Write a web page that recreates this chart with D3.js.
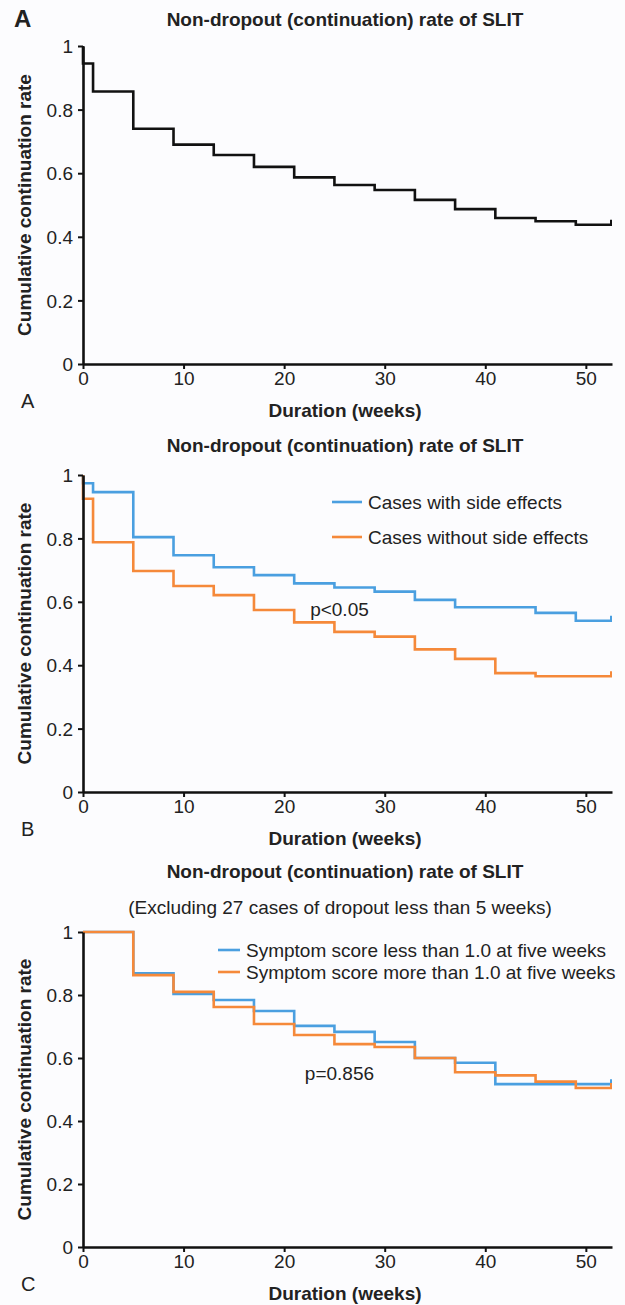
<!DOCTYPE html>
<html>
<head>
<meta charset="utf-8">
<script src="https://cdn.jsdelivr.net/npm/d3@7"></script>
<style>
	body { margin: 0; background: #fcfcfe; }
	svg { display: block; font-family: "Liberation Sans", Arial, sans-serif; }
	.tick text { font-size: 19px; fill: #222; }
</style>
</head>
<body>
<svg id="viz"></svg>
<script>
// Kaplan-Meier style step data (weeks, rate after the drop)
const xTicks = [0, 10, 20, 30, 40, 50];
const yTicks = [0, 0.2, 0.4, 0.6, 0.8, 1];

const weeksA = [0, 1, 5, 9, 13, 17, 21, 25, 29, 33, 37, 41, 45, 49];
const rateA = [0.945, 0.857, 0.740, 0.690, 0.657, 0.620, 0.587, 0.563, 0.547, 0.516, 0.487, 0.459, 0.449, 0.438];

const weeksSide = [0, 1, 5, 9, 13, 17, 21, 25, 29, 33, 37, 45, 49];
const rateSide = [0.974, 0.946, 0.804, 0.747, 0.709, 0.684, 0.658, 0.645, 0.632, 0.606, 0.583, 0.565, 0.540];
const weeksNoSide = [0, 1, 5, 9, 13, 17, 21, 25, 29, 33, 37, 41, 45];
const rateNoSide = [0.925, 0.788, 0.697, 0.650, 0.621, 0.574, 0.535, 0.505, 0.490, 0.450, 0.420, 0.375, 0.365];

const weeksLess = [0, 5, 9, 13, 17, 21, 25, 29, 33, 37, 41];
const rateLess = [1, 0.869, 0.803, 0.784, 0.749, 0.702, 0.683, 0.651, 0.600, 0.585, 0.517];
const weeksMore = [0, 5, 9, 13, 17, 21, 25, 29, 33, 37, 41, 45, 49];
const rateMore = [1, 0.863, 0.810, 0.762, 0.708, 0.673, 0.644, 0.635, 0.600, 0.555, 0.545, 0.525, 0.505];

const titleText = "Non-dropout (continuation) rate of SLIT";
const blue = "#4a9fe0";
const orange = "#f5893a";

const width = 625;
const height = 1305;
const xMax = 52.6;

const svg = d3.select("svg#viz")
	.attr("width", width)
	.attr("height", height);

let translate = function(x, y) {
	return 'translate(' + x + ',' + y + ')';
}

const x = d3.scaleLinear().domain([0, xMax]).range([83, 612]);

let drawPanel = function(p) {
	const y = d3.scaleLinear().domain([0, 1]).range([p.bottom, p.top]);
	const g = svg.append("g");

	// curves
	const line = d3.line()
		.x(d => x(d[0]))
		.y(d => y(d[1]))
		.curve(d3.curveStepAfter);

	p.series.forEach(function(s) {
		let pts = [];
		if (s.rate[0] < 1) pts.push([0, 1]);
		s.weeks.forEach((w, i) => pts.push([w, s.rate[i]]));
		pts.push([xMax, s.rate[s.rate.length - 1]]);
		g.append("path")
			.attr("d", line(pts))
			.attr("fill", "none")
			.attr("stroke", s.color)
			.attr("stroke-width", 2.6);
		// censor mark at the end
		let last = s.rate[s.rate.length - 1];
		g.append("line")
			.attr("x1", x(xMax) - 1).attr("x2", x(xMax) - 1)
			.attr("y1", y(last)).attr("y2", y(last) - 5)
			.attr("stroke", s.color)
			.attr("stroke-width", 2);
	});

	// axes
	const xAxis = d3.axisBottom(x).tickValues(xTicks).tickSize(5).tickSizeOuter(0).tickPadding(3);
	const gx = g.append("g").attr("transform", translate(0, p.bottom)).call(xAxis);
	const yAxis = d3.axisLeft(y).tickValues(yTicks).tickFormat(d3.format("~g")).tickSize(5).tickSizeOuter(0).tickPadding(5);
	const gy = g.append("g").attr("transform", translate(83, 0)).call(yAxis);
	[gx, gy].forEach(function(a) {
		a.select(".domain").attr("stroke", "#111").attr("stroke-width", 2.6);
		a.selectAll(".tick line").attr("stroke", "#111").attr("stroke-width", 2);
		a.attr("font-family", null).attr("font-size", null);
	});
	gy.selectAll(".tick text").attr("dy", "0.35em");

	// y label
	g.append("text")
		.attr("transform", translate(31, (p.top + p.bottom) / 2) + " rotate(-90)")
		.attr("text-anchor", "middle")
		.attr("font-size", 19)
		.attr("font-weight", "bold")
		.attr("fill", "#222")
		.text("Cumulative continuation rate");

	// x label
	g.append("text")
		.attr("x", 345).attr("y", p.bottom + 53)
		.attr("text-anchor", "middle")
		.attr("font-size", 19)
		.attr("font-weight", "bold")
		.attr("fill", "#222")
		.text("Duration (weeks)");

	// panel letter under the axis
	g.append("text")
		.attr("x", 21).attr("y", p.bottom + 44)
		.attr("font-size", 20)
		.attr("fill", "#222")
		.text(p.letter);

	// title
	g.append("text")
		.attr("x", 345).attr("y", p.titleY)
		.attr("text-anchor", "middle")
		.attr("font-size", 19)
		.attr("font-weight", "bold")
		.attr("fill", "#222")
		.text(titleText);

	// legend
	if (p.legend) {
		p.legend.forEach(function(l, i) {
			let ly = p.legendY + i * p.legendGap;
			g.append("line")
				.attr("x1", p.legendX).attr("x2", p.legendX + p.legendLen)
				.attr("y1", ly).attr("y2", ly)
				.attr("stroke", l.color).attr("stroke-width", 2.6);
			g.append("text")
				.attr("x", p.legendX + p.legendLen + 6).attr("y", ly)
				.attr("dy", "0.35em")
				.attr("font-size", 19)
				.attr("fill", "#222")
				.text(l.label);
		});
	}

	if (p.pText) {
		g.append("text")
			.attr("x", x(p.pAt[0])).attr("y", y(p.pAt[1]))
			.attr("text-anchor", "middle")
			.attr("dy", "0.35em")
			.attr("font-size", 19)
			.attr("fill", "#222")
			.text(p.pText);
	}
	return g;
}

drawPanel({
	top: 46, bottom: 364, titleY: 26, letter: "A",
	series: [{weeks: weeksA, rate: rateA, color: "#111"}]
});
svg.append("text")
	.attr("x", 14).attr("y", 27)
	.attr("font-size", 24)
	.attr("font-weight", "bold")
	.attr("fill", "#222")
	.text("A");

drawPanel({
	top: 475, bottom: 792, titleY: 452, letter: "B",
	series: [
		{weeks: weeksSide, rate: rateSide, color: blue},
		{weeks: weeksNoSide, rate: rateNoSide, color: orange}
	],
	legend: [
		{label: "Cases with side effects", color: blue},
		{label: "Cases without side effects", color: orange}
	],
	legendX: 332, legendY: 502, legendGap: 35, legendLen: 30,
	pText: "p<0.05", pAt: [25.5, 0.575]
});

drawPanel({
	top: 932, bottom: 1247, titleY: 878, letter: "C",
	series: [
		{weeks: weeksLess, rate: rateLess, color: blue},
		{weeks: weeksMore, rate: rateMore, color: orange}
	],
	legend: [
		{label: "Symptom score less than 1.0 at five weeks", color: blue},
		{label: "Symptom score more than 1.0 at five weeks", color: orange}
	],
	legendX: 218, legendY: 950, legendGap: 22, legendLen: 22,
	pText: "p=0.856", pAt: [25.5, 0.55]
});

svg.append("text")
	.attr("x", 340).attr("y", 914)
	.attr("text-anchor", "middle")
	.attr("font-size", 19)
	.attr("fill", "#222")
	.text("(Excluding 27 cases of dropout less than 5 weeks)");
</script>
</body>
</html>
